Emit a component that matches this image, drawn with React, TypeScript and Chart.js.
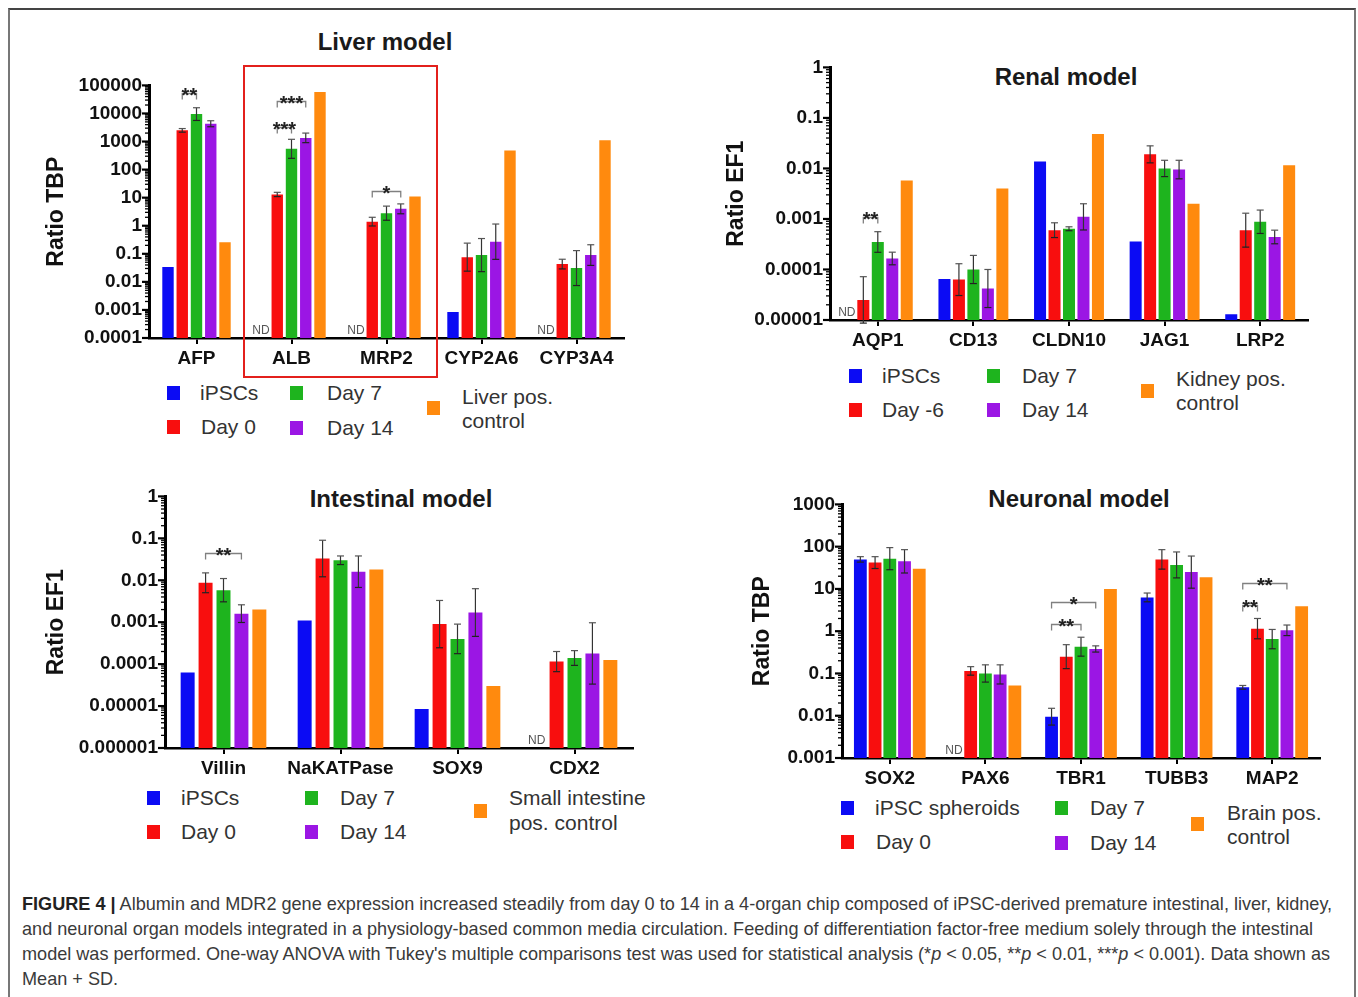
import React, { useEffect, useRef } from 'react';
import { Chart, registerables } from 'chart.js';

Chart.register(...registerables);

const FONT = '"Liberation Sans", Arial, Helvetica, sans-serif';
const COLORS = ['#0b0bf4', '#f80e0e', '#1eb41e', '#9b16e4', '#ff8a0e'];

// ---------------- Liver model ----------------
const liverCategories = ['AFP', 'ALB', 'MRP2', 'CYP2A6', 'CYP3A4'];
const liverSeries = ['iPSCs', 'Day 0', 'Day 7', 'Day 14', 'Liver pos.\ncontrol'];
const liverIPSC = [0.034, null, null, 0.00085, null];
const liverDay0 = [2500, 13, 1.4, 0.076, 0.043];
const liverDay7 = [9500, 550, 2.8, 0.09, 0.031];
const liverDay14 = [4300, 1350, 4.0, 0.27, 0.09];
const liverPos = [0.26, 58000, 11, 480, 1100];
const liverDay0Err = [2900, 15.5, 2.0, 0.24, 0.064];
const liverDay7Err = [16000, 1200, 5.0, 0.35, 0.13];
const liverDay14Err = [5500, 2000, 6.0, 1.15, 0.21];
const liverTicks = [0.0001, 0.001, 0.01, 0.1, 1, 10, 100, 1000, 10000, 100000];
const liverTickLabels = ['0.0001', '0.001', '0.01', '0.1', '1', '10', '100', '1000', '10000', '100000'];
const liverSig = [
  { cat: 0, from: 1, to: 2, at: 55000, label: '**' },
  { cat: 1, from: 1, to: 3, at: 27000, label: '***' },
  { cat: 1, from: 1, to: 2, at: 3300, label: '***' },
  { cat: 2, from: 1, to: 3, at: 18, label: '*' },
];

// ---------------- Renal model ----------------
const renalCategories = ['AQP1', 'CD13', 'CLDN10', 'JAG1', 'LRP2'];
const renalSeries = ['iPSCs', 'Day -6', 'Day 7', 'Day 14', 'Kidney pos.\ncontrol'];
const renalIPSC = [null, 0.000065, 0.0137, 0.00036, 0.000013];
const renalDayM6 = [0.000025, 0.000063, 0.0006, 0.019, 0.0006];
const renalDay7 = [0.00035, 0.0001, 0.00064, 0.01, 0.00088];
const renalDay14 = [0.000165, 0.000042, 0.0011, 0.0095, 0.00044];
const renalPos = [0.0058, 0.004, 0.048, 0.002, 0.0115];
const renalDayM6Err = [0.000072, 0.00013, 0.00084, 0.028, 0.0013];
const renalDay7Err = [0.00056, 0.00019, 0.0007, 0.0145, 0.0015];
const renalDay14Err = [0.00022, 0.0001, 0.002, 0.0145, 0.0006];
const renalTicks = [0.00001, 0.0001, 0.001, 0.01, 0.1, 1];
const renalTickLabels = ['0.00001', '0.0001', '0.001', '0.01', '0.1', '1'];
const renalSig = [{ cat: 0, from: 1, to: 2, at: 0.0011, label: '**' }];

// ---------------- Intestinal model ----------------
const intCategories = ['Villin', 'NaKATPase', 'SOX9', 'CDX2'];
const intSeries = ['iPSCs', 'Day 0', 'Day 7', 'Day 14', 'Small intestine\npos. control'];
const intIPSC = [0.000063, 0.0011, 0.0000085, null];
const intDay0 = [0.0087, 0.033, 0.0009, 0.000115];
const intDay7 = [0.0058, 0.03, 0.0004, 0.00014];
const intDay14 = [0.0016, 0.016, 0.0017, 0.00018];
const intPos = [0.002, 0.018, 0.00003, 0.000125];
const intDay0Err = [0.015, 0.09, 0.0033, 0.0002];
const intDay7Err = [0.011, 0.038, 0.0009, 0.00021];
const intDay14Err = [0.0026, 0.038, 0.0063, 0.00097];
const intTicks = [0.000001, 0.00001, 0.0001, 0.001, 0.01, 0.1, 1];
const intTickLabels = ['0.000001', '0.00001', '0.0001', '0.001', '0.01', '0.1', '1'];
const intSig = [{ cat: 0, from: 1, to: 3, at: 0.044, label: '**' }];

// ---------------- Neuronal model ----------------
const neuCategories = ['SOX2', 'PAX6', 'TBR1', 'TUBB3', 'MAP2'];
const neuSeries = ['iPSC spheroids', 'Day 0', 'Day 7', 'Day 14', 'Brain pos.\ncontrol'];
const neuIPSC = [50, null, 0.0095, 6.3, 0.047];
const neuDay0 = [42, 0.115, 0.25, 50, 1.15];
const neuDay7 = [52, 0.1, 0.43, 37, 0.65];
const neuDay14 = [45, 0.095, 0.38, 25, 1.05];
const neuPos = [30, 0.052, 10, 19, 3.9];
const neuIPSCErr = [58, null, 0.015, 8, 0.052];
const neuDay0Err = [58, 0.145, 0.48, 85, 2.0];
const neuDay7Err = [95, 0.16, 0.72, 75, 1.1];
const neuDay14Err = [85, 0.16, 0.45, 60, 1.4];
const neuTicks = [0.001, 0.01, 0.1, 1, 10, 100, 1000];
const neuTickLabels = ['0.001', '0.01', '0.1', '1', '10', '100', '1000'];
const neuSig = [
  { cat: 2, from: 0, to: 3, at: 4.9, label: '*' },
  { cat: 2, from: 0, to: 2, at: 1.5, label: '**' },
  { cat: 4, from: 0, to: 3, at: 14, label: '**' },
  { cat: 4, from: 0, to: 1, at: 4.2, label: '**' },
];

type Sig = { cat: number; from: number; to: number; at: number; label: string };
type Vals = (number | null)[];
type PanelCfg = {
  canvas: { left: number; top: number; width: number; height: number };
  yWidth: number;
  xHeight: number;
  padRight: number;
  categories: string[];
  labels: string[];
  values: Vals[];
  errs: (Vals | null)[];
  ticks: number[];
  tickLabels: string[];
  yTitle: string;
  sig: Sig[];
  catPct: number;
  barPct: number;
};

const decorPlugin = {
  id: 'decor',
  afterDraw(chart: any, _args: any, opts: any) {
    const { ctx, chartArea } = chart;
    const ys = chart.scales.y;
    const left = chartArea.left;
    ctx.save();
    const seg = (x1: number, y1: number, x2: number, y2: number, w: number, c: string) => {
      ctx.beginPath();
      ctx.strokeStyle = c;
      ctx.lineWidth = w;
      ctx.moveTo(x1, y1);
      ctx.lineTo(x2, y2);
      ctx.stroke();
    };
    // y ticks (major + minor)
    const lo = Math.round(Math.log10(ys.min));
    const hi = Math.round(Math.log10(ys.max));
    for (let d = lo; d <= hi; d++) {
      const base = Math.pow(10, d);
      const py = ys.getPixelForValue(base);
      seg(left - 7, py, left, py, 2.2, '#000');
      if (d < hi) {
        for (let k = 2; k <= 9; k++) {
          const p = ys.getPixelForValue(k * base);
          seg(left - 4, p, left, p, 1.3, '#000');
        }
      }
    }
    // error bars
    const errs = opts.errs as (Vals | null)[];
    errs.forEach((arr, di) => {
      if (!arr) return;
      const meta = chart.getDatasetMeta(di);
      const data = chart.data.datasets[di].data as Vals;
      arr.forEach((e, j) => {
        const v = data[j];
        if (e == null || v == null) return;
        const el = meta.data[j];
        const cx = el.x;
        const pTop = ys.getPixelForValue(e);
        const pLow = ys.getPixelForValue((v * v) / e);
        seg(cx, pTop, cx, pLow, 1.2, '#333');
        seg(cx - 3.5, pTop, cx + 3.5, pTop, 1.2, '#555');
        seg(cx - 3.5, pLow, cx + 3.5, pLow, 1.2, '#222');
      });
    });
    // ND labels
    const first = chart.data.datasets[0].data as Vals;
    const meta0 = chart.getDatasetMeta(0);
    ctx.font = `12px ${FONT}`;
    ctx.fillStyle = '#555';
    ctx.textAlign = 'center';
    ctx.textBaseline = 'alphabetic';
    first.forEach((v, j) => {
      if (v == null) {
        ctx.fillText('ND', meta0.data[j].x - 2, chartArea.bottom - 4);
      }
    });
    // significance brackets
    (opts.sig as Sig[]).forEach((s) => {
      const x1 = chart.getDatasetMeta(s.from).data[s.cat].x;
      const x2 = chart.getDatasetMeta(s.to).data[s.cat].x;
      const py = Math.round(ys.getPixelForValue(s.at)) + 0.5;
      ctx.beginPath();
      ctx.strokeStyle = '#808080';
      ctx.lineWidth = 1.3;
      ctx.moveTo(x1, py + 6);
      ctx.lineTo(x1, py);
      ctx.lineTo(x2, py);
      ctx.lineTo(x2, py + 6);
      ctx.stroke();
      ctx.font = `bold 20px ${FONT}`;
      ctx.fillStyle = '#222';
      ctx.textAlign = 'center';
      ctx.textBaseline = 'alphabetic';
      ctx.fillText(s.label, (x1 + x2) / 2, py + 8);
    });
    ctx.restore();
  },
};

function ChartPanel({ cfg }: { cfg: PanelCfg }) {
  const ref = useRef<HTMLCanvasElement | null>(null);
  useEffect(() => {
    if (!ref.current) return;
    const chart = new Chart(ref.current, {
      type: 'bar',
      data: {
        labels: cfg.categories,
        datasets: cfg.values.map((v, i) => ({
          label: cfg.labels[i].replace('\n', ' '),
          data: v as any,
          backgroundColor: COLORS[i],
          borderWidth: 0,
          categoryPercentage: cfg.catPct,
          barPercentage: cfg.barPct,
        })),
      },
      options: {
        responsive: false,
        animation: false,
        devicePixelRatio: 1,
        layout: { padding: { top: 0, right: cfg.padRight, left: 0, bottom: 0 } },
        plugins: {
          legend: { display: false },
          tooltip: { enabled: false },
          // @ts-ignore
          decor: { errs: cfg.errs, sig: cfg.sig },
        },
        scales: {
          x: {
            type: 'category',
            offset: true,
            grid: {
              display: true,
              drawOnChartArea: false,
              drawTicks: true,
              tickLength: 6,
              offset: false,
              color: '#000',
              lineWidth: 2,
            },
            border: { display: true, color: '#000', width: 2.5 },
            ticks: {
              font: { family: FONT, size: 19, weight: 'bold' },
              color: '#111',
              padding: 3,
              maxRotation: 0,
              autoSkip: false,
            },
            afterFit: (s: any) => {
              s.height = cfg.xHeight;
            },
          },
          y: {
            type: 'logarithmic',
            min: cfg.ticks[0],
            max: cfg.ticks[cfg.ticks.length - 1],
            grid: { display: false, drawTicks: false },
            border: { display: true, color: '#000', width: 3 },
            ticks: {
              font: { family: FONT, size: 19, weight: 'bold' },
              color: '#111',
              padding: 7,
              autoSkip: false,
              callback: (_v: any, i: number) => cfg.tickLabels[i] ?? '',
            },
            afterBuildTicks: (s: any) => {
              s.ticks = cfg.ticks.map((v) => ({ value: v }));
            },
            afterFit: (s: any) => {
              s.width = cfg.yWidth;
            },
            title: {
              display: true,
              text: cfg.yTitle,
              font: { family: FONT, size: 23, weight: 'bold' },
              color: '#111',
              padding: { top: 3, bottom: 0 },
            },
          },
        },
      } as any,
      plugins: [decorPlugin as any],
    });
    return () => chart.destroy();
  }, [cfg]);
  const c = cfg.canvas;
  return (
    <canvas
      ref={ref}
      width={c.width}
      height={c.height}
      style={{ position: 'absolute', left: c.left, top: c.top, width: c.width, height: c.height }}
    />
  );
}

const liverCfg: PanelCfg = {
  canvas: { left: 40, top: 67, width: 610, height: 303 },
  yWidth: 109, xHeight: 32, padRight: 26,
  categories: liverCategories, labels: liverSeries,
  values: [liverIPSC, liverDay0, liverDay7, liverDay14, liverPos],
  errs: [null, liverDay0Err, liverDay7Err, liverDay14Err, null],
  ticks: liverTicks, tickLabels: liverTickLabels, yTitle: 'Ratio TBP', sig: liverSig,
  catPct: 0.75, barPct: 0.8,
};
const renalCfg: PanelCfg = {
  canvas: { left: 720, top: 49, width: 600, height: 301 },
  yWidth: 110, xHeight: 30, padRight: 12,
  categories: renalCategories, labels: renalSeries,
  values: [renalIPSC, renalDayM6, renalDay7, renalDay14, renalPos],
  errs: [null, renalDayM6Err, renalDay7Err, renalDay14Err, null],
  ticks: renalTicks, tickLabels: renalTickLabels, yTitle: 'Ratio EF1', sig: renalSig,
  catPct: 0.757, barPct: 0.83,
};
const intCfg: PanelCfg = {
  canvas: { left: 40, top: 478, width: 610, height: 300 },
  yWidth: 125, xHeight: 30, padRight: 17,
  categories: intCategories, labels: intSeries,
  values: [intIPSC, intDay0, intDay7, intDay14, intPos],
  errs: [null, intDay0Err, intDay7Err, intDay14Err, null],
  ticks: intTicks, tickLabels: intTickLabels, yTitle: 'Ratio EF1', sig: intSig,
  catPct: 0.766, barPct: 0.78,
};
const neuCfg: PanelCfg = {
  canvas: { left: 746, top: 486, width: 590, height: 302 },
  yWidth: 96, xHeight: 30, padRight: 16,
  categories: neuCategories, labels: neuSeries,
  values: [neuIPSC, neuDay0, neuDay7, neuDay14, neuPos],
  errs: [neuIPSCErr, neuDay0Err, neuDay7Err, neuDay14Err, null],
  ticks: neuTicks, tickLabels: neuTickLabels, yTitle: 'Ratio TBP', sig: neuSig,
  catPct: 0.77, barPct: 0.87,
};

type LegendPos = { sq: [number, number]; tx: number; ty?: number[] };

function Legend({ labels, pos }: { labels: string[]; pos: LegendPos[] }) {
  return (
    <>
      {labels.map((lab, i) => {
        const p = pos[i];
        const lines = lab.split('\n');
        const ys = p.ty ?? [p.sq[1]];
        return (
          <React.Fragment key={i}>
            <div
              style={{
                position: 'absolute',
                left: p.sq[0] - 6.5,
                top: p.sq[1] - 7,
                width: 13,
                height: 14,
                background: COLORS[i],
              }}
            />
            {lines.map((ln, k) => (
              <div
                key={k}
                style={{
                  position: 'absolute',
                  left: p.tx,
                  top: ys[k] - 12,
                  height: 24,
                  lineHeight: '24px',
                  fontSize: 21,
                  color: '#333',
                  whiteSpace: 'nowrap',
                }}
              >
                {ln}
              </div>
            ))}
          </React.Fragment>
        );
      })}
    </>
  );
}

function Title({ text, cx, cy }: { text: string; cx: number; cy: number }) {
  return (
    <div
      style={{
        position: 'absolute',
        left: cx - 200,
        width: 400,
        top: cy - 14,
        height: 28,
        lineHeight: '28px',
        textAlign: 'center',
        fontSize: 24,
        fontWeight: 'bold',
        color: '#1a1a1a',
      }}
    >
      {text}
    </div>
  );
}

const capLine: React.CSSProperties = {
  position: 'absolute',
  left: 22,
  height: 25,
  lineHeight: '25px',
  fontSize: 18.1,
  color: '#3a3a3a',
  whiteSpace: 'nowrap',
};

export default function App() {
  return (
    <div
      style={{
        position: 'fixed',
        left: 0,
        top: 0,
        width: 1358,
        height: 997,
        background: '#fff',
        overflow: 'hidden',
        fontFamily: FONT,
      }}
    >
      <div
        style={{
          position: 'absolute',
          left: 8,
          top: 8,
          width: 1344,
          height: 1000,
          borderTop: '2px solid #444',
          borderLeft: '2px solid #777',
          borderRight: '2px solid #777',
        }}
      />
      <Title text="Liver model" cx={385} cy={42} />
      <Title text="Renal model" cx={1066} cy={77} />
      <Title text="Intestinal model" cx={401} cy={499} />
      <Title text="Neuronal model" cx={1079} cy={499} />

      <ChartPanel cfg={liverCfg} />
      <ChartPanel cfg={renalCfg} />
      <ChartPanel cfg={intCfg} />
      <ChartPanel cfg={neuCfg} />

      <div
        style={{
          position: 'absolute',
          left: 243,
          top: 65,
          width: 191,
          height: 309,
          border: '2px solid #e3201c',
        }}
      />

      <Legend
        labels={liverSeries}
        pos={[
          { sq: [173, 393], tx: 200 },
          { sq: [173, 427], tx: 201 },
          { sq: [296, 393], tx: 327 },
          { sq: [296, 428], tx: 327 },
          { sq: [433, 408], tx: 462, ty: [397, 421] },
        ]}
      />
      <Legend
        labels={renalSeries}
        pos={[
          { sq: [855, 376], tx: 882 },
          { sq: [855, 410], tx: 882 },
          { sq: [993, 376], tx: 1022 },
          { sq: [993, 410], tx: 1022 },
          { sq: [1147, 391], tx: 1176, ty: [379, 403] },
        ]}
      />
      <Legend
        labels={intSeries}
        pos={[
          { sq: [153, 798], tx: 181 },
          { sq: [153, 832], tx: 181 },
          { sq: [311, 798], tx: 340 },
          { sq: [311, 832], tx: 340 },
          { sq: [480, 811], tx: 509, ty: [798, 823] },
        ]}
      />
      <Legend
        labels={neuSeries}
        pos={[
          { sq: [847, 808], tx: 875 },
          { sq: [847, 842], tx: 876 },
          { sq: [1061, 808], tx: 1090 },
          { sq: [1061, 843], tx: 1090 },
          { sq: [1197, 824], tx: 1227, ty: [813, 837] },
        ]}
      />

      <div style={{ ...capLine, top: 892 }}>
        <b style={{ color: '#222' }}>FIGURE 4 |</b> Albumin and MDR2 gene expression increased steadily from
        day 0 to 14 in a 4-organ chip composed of iPSC-derived premature intestinal, liver, kidney,
      </div>
      <div style={{ ...capLine, top: 917 }}>
        and neuronal organ models integrated in a physiology-based common media circulation. Feeding of
        differentiation factor-free medium solely through the intestinal
      </div>
      <div style={{ ...capLine, top: 942 }}>
        model was performed. One-way ANOVA with Tukey's multiple comparisons test was used for statistical
        analysis (*<i>p</i> &lt; 0.05, **<i>p</i> &lt; 0.01, ***<i>p</i> &lt; 0.001). Data shown as
      </div>
      <div style={{ ...capLine, top: 967 }}>Mean + SD.</div>
    </div>
  );
}
